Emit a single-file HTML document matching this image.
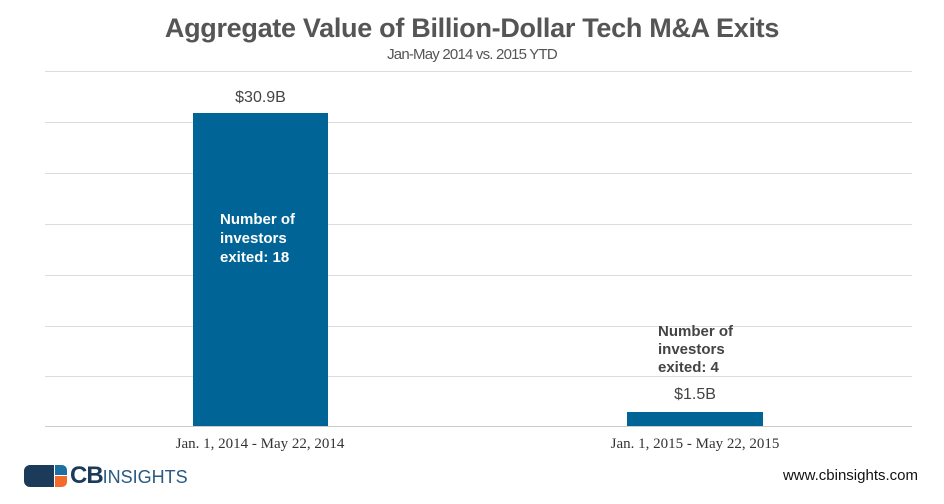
<!DOCTYPE html>
<html><head><style>
body{margin:0;width:944px;height:504px;background:#fff;position:relative;font-family:"Liberation Sans",sans-serif;overflow:hidden}
.a{position:absolute}
.g{position:absolute;left:45px;width:867px;height:1px;background:#dcdcdc}
.t{color:#555;white-space:nowrap}
</style></head><body>
<div class="a t" style="left:0;width:944px;top:13px;text-align:center;font-size:27px;font-weight:bold;letter-spacing:-0.3px">Aggregate Value of Billion-Dollar Tech M&amp;A Exits</div>
<div class="a t" style="left:0;width:944px;top:46px;text-align:center;font-size:15px;letter-spacing:-0.8px">Jan-May 2014 vs. 2015 YTD</div>
<div class="g" style="top:71px"></div><div class="g" style="top:122px"></div><div class="g" style="top:173px"></div><div class="g" style="top:224px"></div><div class="g" style="top:275px"></div><div class="g" style="top:326px"></div><div class="g" style="top:376px"></div><div class="g" style="top:426px;background:#ccc"></div>
<div class="a" style="left:193px;top:113px;width:135px;height:313px;background:#006496"></div>
<div class="a" style="left:627px;top:412px;width:136px;height:14px;background:#006496"></div>
<div class="a t" style="left:193px;width:135px;top:89px;text-align:center;font-size:16px;color:#444">$30.9B</div>
<div class="a t" style="left:627px;width:136px;top:386px;text-align:center;font-size:16px;color:#444">$1.5B</div>
<div class="a" style="left:220px;top:210px;color:#fff;font-weight:bold;font-size:15px;line-height:19px">Number of<br>investors<br>exited: 18</div>
<div class="a" style="left:658px;top:323px;color:#444;font-weight:bold;font-size:15px;line-height:18px">Number of<br>investors<br>exited: 4</div>
<div class="a t" style="left:100px;width:320px;top:436px;text-align:center;font-size:15px;font-family:'Liberation Serif',serif;color:#333">Jan. 1, 2014 - May 22, 2014</div>
<div class="a t" style="left:535px;width:320px;top:436px;text-align:center;font-size:15px;font-family:'Liberation Serif',serif;color:#333">Jan. 1, 2015 - May 22, 2015</div>
<div class="a" style="left:24px;top:465px;width:30px;height:22px;background:#1c3a5a;border-radius:6px 0 0 6px"></div>
<div class="a" style="left:55px;top:465px;width:12px;height:10px;background:#1c6fa0;border-radius:0 5px 0 0"></div>
<div class="a" style="left:55px;top:476px;width:12px;height:11px;background:#f26b2a;border-radius:0 0 5px 0"></div>
<div class="a" style="left:70px;top:462px;font-size:24px;font-weight:bold;color:#1c3a5a;letter-spacing:-1px">CB<span style="font-weight:normal;font-size:18px;color:#2a5a80;letter-spacing:0">INSIGHTS</span></div>
<div class="a t" style="right:26px;top:467px;font-size:15px;color:#111">www.cbinsights.com</div>
</body></html>
